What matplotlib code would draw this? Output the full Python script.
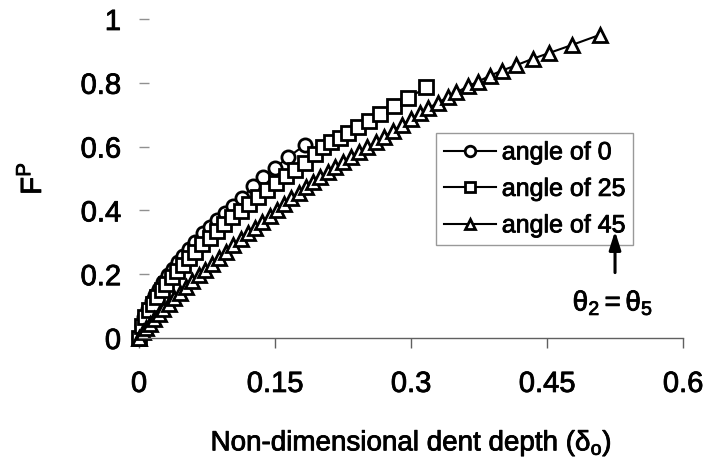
import matplotlib
matplotlib.use("Agg")
import matplotlib.pyplot as plt
import matplotlib.patheffects as pe

plt.rcParams['font.family'] = ['Liberation Sans', 'DejaVu Sans']
plt.rcParams['mathtext.fontset'] = 'custom'
plt.rcParams['mathtext.rm'] = 'Liberation Sans'
plt.rcParams['mathtext.it'] = 'Liberation Sans'

# Non-dimensional dent depth vs. F^P for three indenter angles
depth_0 = [0, 0.003, 0.006, 0.010, 0.014, 0.018, 0.022, 0.027, 0.032, 0.037,
           0.043, 0.049, 0.055, 0.062, 0.071, 0.078, 0.086, 0.095, 0.104, 0.114,
           0.126, 0.137, 0.150, 0.164, 0.183]
force_0 = [0, 0.042, 0.066, 0.092, 0.115, 0.135, 0.154, 0.176, 0.196, 0.215,
           0.237, 0.258, 0.278, 0.300, 0.328, 0.349, 0.370, 0.391, 0.414, 0.438,
           0.478, 0.505, 0.532, 0.566, 0.605]

depth_25 = [0, 0.003, 0.007, 0.011, 0.015, 0.020, 0.025, 0.030, 0.036, 0.042,
            0.048, 0.055, 0.062, 0.070, 0.078, 0.086, 0.094, 0.103, 0.112, 0.121,
            0.131, 0.141, 0.151, 0.162, 0.172, 0.183, 0.194, 0.203, 0.212, 0.222,
            0.231, 0.242, 0.254, 0.266, 0.281, 0.297, 0.317]
force_25 = [0, 0.038, 0.065, 0.088, 0.107, 0.129, 0.150, 0.169, 0.190, 0.210,
            0.229, 0.251, 0.271, 0.294, 0.315, 0.336, 0.356, 0.378, 0.399, 0.419,
            0.442, 0.464, 0.485, 0.508, 0.528, 0.550, 0.578, 0.598, 0.615, 0.628,
            0.643, 0.662, 0.680, 0.703, 0.727, 0.752, 0.786]

depth_45 = [0, 0.004, 0.008, 0.012, 0.017, 0.022, 0.027, 0.033, 0.039, 0.045,
            0.052, 0.059, 0.066, 0.073, 0.080, 0.088, 0.096, 0.104, 0.112, 0.120,
            0.128, 0.136, 0.144, 0.152, 0.160, 0.168, 0.176, 0.184, 0.192, 0.200,
            0.208, 0.216, 0.225, 0.234, 0.243, 0.252, 0.261, 0.270, 0.280, 0.290,
            0.300, 0.310, 0.319, 0.330, 0.341, 0.350, 0.363, 0.374, 0.387, 0.400,
            0.416, 0.434, 0.452, 0.477, 0.508]
force_45 = [0, 0.018, 0.032, 0.045, 0.061, 0.076, 0.091, 0.108, 0.125, 0.141,
            0.160, 0.178, 0.196, 0.214, 0.231, 0.251, 0.270, 0.290, 0.309, 0.328,
            0.346, 0.365, 0.383, 0.401, 0.419, 0.440, 0.455, 0.473, 0.490, 0.505,
            0.520, 0.535, 0.551, 0.567, 0.583, 0.599, 0.614, 0.630, 0.650, 0.668,
            0.687, 0.705, 0.720, 0.738, 0.756, 0.770, 0.789, 0.804, 0.822, 0.838,
            0.855, 0.875, 0.893, 0.918, 0.950]

labels = ['angle of 0', 'angle of 25', 'angle of 45']
x_ticks = [0, 0.15, 0.3, 0.45, 0.6]
x_tick_labels = ['0', '0.15', '0.3', '0.45', '0.6']
y_ticks = [0, 0.2, 0.4, 0.6, 0.8, 1.0]
y_tick_labels = ['0', '0.2', '0.4', '0.6', '0.8', '1']

# slightly heavier strokes for all text
bold_fx = [pe.withStroke(linewidth=0.6, foreground='black')]

fig = plt.figure(figsize=(7.07, 4.71), dpi=100)
ax = fig.add_axes([0.1966, 0.2824, 0.7695, 0.6773])

style = dict(color='black', linewidth=1.5, markerfacecolor='white',
             markeredgecolor='black', markeredgewidth=2.0, clip_on=False)
ax.plot(depth_0, force_0, marker='o', markersize=9.5, label=labels[0], **style)
ax.plot(depth_25, force_25, marker='s', markersize=9.5, label=labels[1], **style)
ax.plot(depth_45, force_45, marker='^', markersize=9.5, label=labels[2], **style)

ax.set_xlim(0, 0.6)
ax.set_ylim(0, 1.0)
ax.set_xticks(x_ticks)
ax.set_xticklabels(x_tick_labels)
ax.set_yticks(y_ticks)
ax.set_yticklabels(y_tick_labels)

for side in ['top', 'right', 'left']:
    ax.spines[side].set_visible(False)
ax.spines['bottom'].set_color('#606060')
ax.spines['bottom'].set_linewidth(1.0)

ax.tick_params(axis='x', direction='out', length=7, width=1, color='#606060',
               labelsize=21, pad=16)
ax.tick_params(axis='y', direction='in', length=7, width=1, color='#909090',
               labelsize=21, pad=13)
for lbl in ax.get_xticklabels() + ax.get_yticklabels():
    lbl.set_path_effects(bold_fx)

ax.set_xlabel(r'Non-dimensional dent depth ($\mathregular{\delta_o}$)',
              fontsize=20, labelpad=22, path_effects=bold_fx)
ax.set_ylabel(r'F$^\mathregular{P}$', fontsize=21, labelpad=24,
              path_effects=bold_fx)

leg = ax.legend(loc='upper left', bbox_to_anchor=(0.546, 0.643), fontsize=18,
                frameon=True, fancybox=False, handlelength=2.1,
                handletextpad=0.23, borderpad=0.3, labelspacing=0.5,
                borderaxespad=0, markerscale=0.8)
leg.get_frame().set_edgecolor('#808080')
leg.get_frame().set_linewidth(1.0)
for t in leg.get_texts():
    t.set_path_effects(bold_fx)

arrow = ax.annotate('', xy=(0.875, 0.335), xytext=(0.875, 0.205),
                    xycoords='axes fraction',
                    arrowprops=dict(arrowstyle='-|>,head_length=1.1,head_width=0.35',
                                    color='black', lw=2.2, shrinkA=0, shrinkB=0))
arrow.set_zorder(10)
ax.text(0.871, 0.11, r'$\mathregular{\theta_2{=}\theta_5}$',
        transform=ax.transAxes, ha='center', va='center', fontsize=20,
        path_effects=bold_fx)

fig.savefig('out.png', dpi=100)
